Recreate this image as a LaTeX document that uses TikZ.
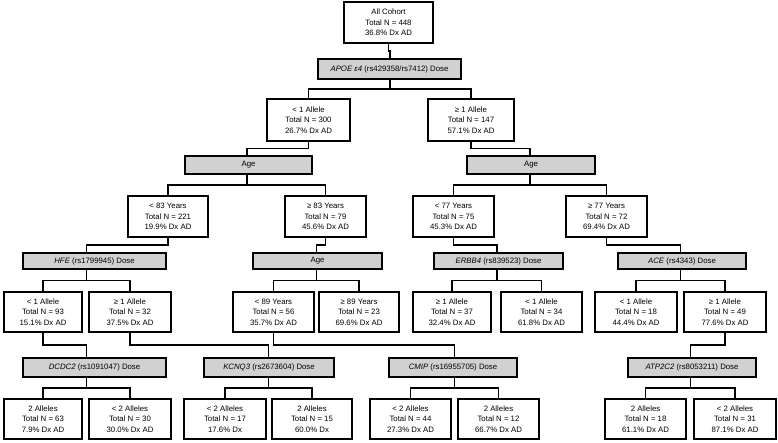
\documentclass[tikz,border=0pt]{standalone}
\usepackage{fontspec}
\setmainfont{Liberation Sans}
\usetikzlibrary{calc}
\begin{document}
\begin{tikzpicture}[x=1pt,y=-1pt,
  base/.style={draw=black,line width=1.7pt,inner sep=0pt,align=center,
    font=\fontsize{7.8}{10.5}\selectfont},
  leaf/.style={base,fill=white,minimum height=#1},
  leaf/.default=41,
  split/.style={base,fill=black!18,minimum height=#1},
  split/.default=18.5,
  conn/.style={line width=1.5pt,line join=miter},
  elbow/.style={to path={|- ($(\tikztostart)!.5!(\tikztotarget)$) -| (\tikztotarget)}}]
\useasboundingbox (0,0) rectangle (778,442);
% level 0
\node[leaf=41.5,minimum width=89.5] (all) at (388.5,22.5) {All Cohort\\Total N = 448\\36.8\% Dx AD};
\node[split=20.5,minimum width=143.5] (apoe) at (389.5,69) {\textit{APOE ε4} (rs429358/rs7412) Dose};
% level 2
\node[leaf=42.5,minimum width=83.5] (lt1) at (308.5,120) {< 1 Allele\\Total N = 300\\26.7\% Dx AD};
\node[leaf=42.5,minimum width=86.5] (ge1) at (471,120) {≥ 1 Allele\\Total N = 147\\57.1\% Dx AD};
\node[split,minimum width=127.5] (ageL) at (248.5,165) {Age};
\node[split,minimum width=128.5] (ageR) at (531,165) {Age};
% level 3
\node[leaf=41.5,minimum width=80.5] (lt83) at (168,216.5) {< 83 Years\\Total N = 221\\19.9\% Dx AD};
\node[leaf=41.5,minimum width=81.5] (ge83) at (325.5,216.5) {≥ 83 Years\\Total N = 79\\45.6\% Dx AD};
\node[leaf=41.5,minimum width=81.5] (lt77) at (453.5,216.5) {< 77 Years\\Total N = 75\\45.3\% Dx AD};
\node[leaf=41.5,minimum width=81.5] (ge77) at (606.5,216.5) {≥ 77 Years\\Total N = 72\\69.4\% Dx AD};
% level 4
\node[split=16.5,minimum width=143.5] (hfe) at (94.5,261) {\textit{HFE} (rs1799945) Dose};
\node[split=16.5,minimum width=129.5] (age2) at (317.5,261) {Age};
\node[split=16.5,minimum width=129.5] (erbb) at (498.5,261) {\textit{ERBB4} (rs839523) Dose};
\node[split=16.5,minimum width=128.5] (ace) at (682,261) {\textit{ACE} (rs4343) Dose};
% level 5
\node[leaf=40.5,minimum width=78.5] (hfeLt) at (43,312) {< 1 Allele\\Total N = 93\\15.1\% Dx AD};
\node[leaf=40.5,minimum width=82.5] (hfeGe) at (130,312) {≥ 1 Allele\\Total N = 32\\37.5\% Dx AD};
\node[leaf=40.5,minimum width=81.5] (lt89) at (273.5,312) {< 89 Years\\Total N = 56\\35.7\% Dx AD};
\node[leaf=40.5,minimum width=80.5] (ge89) at (359,312) {≥ 89 Years\\Total N = 23\\69.6\% Dx AD};
\node[leaf=40.5,minimum width=78.5] (erbGe) at (452,312) {≥ 1 Allele\\Total N = 37\\32.4\% Dx AD};
\node[leaf=40.5,minimum width=81.5] (erbLt) at (541.5,312) {< 1 Allele\\Total N = 34\\61.8\% Dx AD};
\node[leaf=40.5,minimum width=82.5] (aceLt) at (636,312) {< 1 Allele\\Total N = 18\\44.4\% Dx AD};
\node[leaf=40.5,minimum width=82.5] (aceGe) at (725,312) {≥ 1 Allele\\Total N = 49\\77.6\% Dx AD};
% level 6
\node[split=19.5,minimum width=143.5] (dcdc) at (94.5,367.5) {\textit{DCDC2} (rs1091047) Dose};
\node[split=19.5,minimum width=130.5] (kcnq) at (269,367.5) {\textit{KCNQ3} (rs2673604) Dose};
\node[split=19.5,minimum width=128.5] (cmip) at (453,367.5) {\textit{CMIP} (rs16955705) Dose};
\node[split=19.5,minimum width=128.5] (atp) at (692,367.5) {\textit{ATP2C2} (rs8053211) Dose};
% level 7
\node[leaf=40.5,minimum width=78.5] (d2) at (43,419) {2 Alleles\\Total N = 63\\7.9\% Dx AD};
\node[leaf=40.5,minimum width=82.5] (dlt2) at (130,419) {< 2 Alleles\\Total N = 30\\30.0\% Dx AD};
\node[leaf=40.5,minimum width=82.5] (klt2) at (225,419) {< 2 Alleles\\Total N = 17\\17.6\% Dx};
\node[leaf=40.5,minimum width=80.5] (k2) at (312,419) {2 Alleles\\Total N = 15\\60.0\% Dx};
\node[leaf=40.5,minimum width=81.5] (clt2) at (410.5,419) {< 2 Alleles\\Total N = 44\\27.3\% Dx AD};
\node[leaf=40.5,minimum width=81.5] (c2) at (498.5,419) {2 Alleles\\Total N = 12\\66.7\% Dx AD};
\node[leaf=40.5,minimum width=81.5] (a2) at (645.5,419) {2 Alleles\\Total N = 18\\61.1\% Dx AD};
\node[leaf=40.5,minimum width=82.5] (alt2) at (735,419) {< 2 Alleles\\Total N = 31\\87.1\% Dx AD};
% split-point x positions (midpoints of children)
\coordinate (mApoe) at ($(lt1.north)!.5!(ge1.north)$);
\coordinate (mAgeL) at ($(lt83.north)!.5!(ge83.north)$);
\coordinate (mAgeR) at ($(lt77.north)!.5!(ge77.north)$);
\coordinate (mHfe) at ($(hfeLt.north)!.5!(hfeGe.north)$);
\coordinate (mAge2) at ($(lt89.north)!.5!(ge89.north)$);
\coordinate (mErb) at ($(erbGe.north)!.5!(erbLt.north)$);
\coordinate (mAce) at ($(aceLt.north)!.5!(aceGe.north)$);
\coordinate (mDcdc) at ($(d2.north)!.5!(dlt2.north)$);
\coordinate (mKcnq) at ($(klt2.north)!.5!(k2.north)$);
\coordinate (mCmip) at ($(clt2.north)!.5!(c2.north)$);
\coordinate (mAtp) at ($(a2.north)!.5!(alt2.north)$);
% connectors
\begin{scope}[conn]
\draw (all.south) to[elbow] (apoe.north -| mApoe);
\draw (apoe.south -| mApoe) to[elbow] (lt1.north);
\draw (apoe.south -| mApoe) to[elbow] (ge1.north);
\draw (lt1.south) to[elbow] (ageL.north -| mAgeL);
\draw (ge1.south) to[elbow] (ageR.north -| mAgeR);
\draw (ageL.south -| mAgeL) to[elbow] (lt83.north);
\draw (ageL.south -| mAgeL) to[elbow] (ge83.north);
\draw (ageR.south -| mAgeR) to[elbow] (lt77.north);
\draw (ageR.south -| mAgeR) to[elbow] (ge77.north);
\draw (lt83.south) to[elbow] (hfe.north -| mHfe);
\draw (ge83.south) to[elbow] (age2.north -| mAge2);
\draw (lt77.south) to[elbow] (erbb.north -| mErb);
\draw (ge77.south) to[elbow] (ace.north -| mAce);
\draw (hfe.south -| mHfe) to[elbow] (hfeLt.north);
\draw (hfe.south -| mHfe) to[elbow] (hfeGe.north);
\draw (age2.south -| mAge2) to[elbow] (lt89.north);
\draw (age2.south -| mAge2) to[elbow] (ge89.north);
\draw (erbb.south -| mErb) to[elbow] (erbGe.north);
\draw (erbb.south -| mErb) to[elbow] (erbLt.north);
\draw (ace.south -| mAce) to[elbow] (aceLt.north);
\draw (ace.south -| mAce) to[elbow] (aceGe.north);
\draw (hfeLt.south) to[elbow] (dcdc.north -| mDcdc);
\draw (hfeGe.south) to[elbow] (kcnq.north -| mKcnq);
\draw (lt89.south) to[elbow] (cmip.north -| mCmip);
\draw (aceGe.south) to[elbow] (atp.north -| mAtp);
\draw (dcdc.south -| mDcdc) to[elbow] (d2.north);
\draw (dcdc.south -| mDcdc) to[elbow] (dlt2.north);
\draw (kcnq.south -| mKcnq) to[elbow] (klt2.north);
\draw (kcnq.south -| mKcnq) to[elbow] (k2.north);
\draw (cmip.south -| mCmip) to[elbow] (clt2.north);
\draw (cmip.south -| mCmip) to[elbow] (c2.north);
\draw (atp.south -| mAtp) to[elbow] (a2.north);
\draw (atp.south -| mAtp) to[elbow] (alt2.north);
\end{scope}
\end{tikzpicture}
\end{document}
